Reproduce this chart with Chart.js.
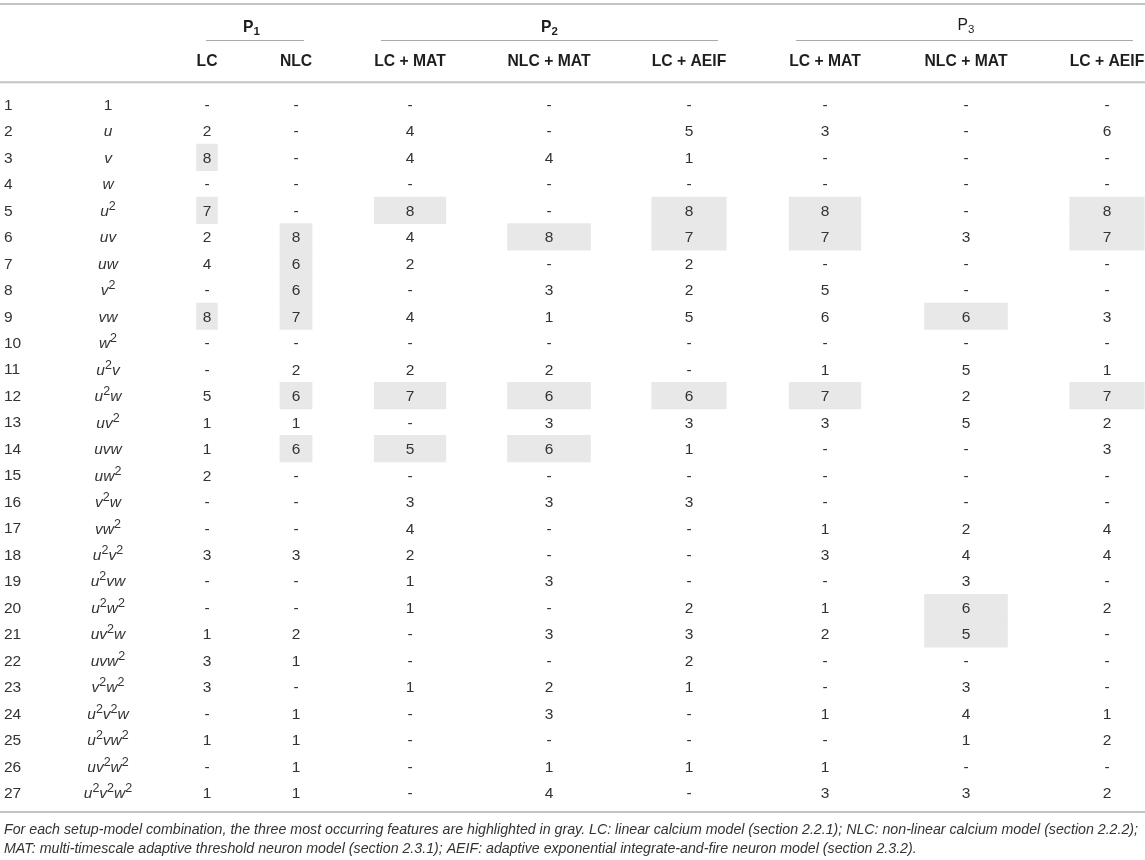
<!DOCTYPE html>
<html>
<head>
<meta charset="utf-8">
<title>Most occurring features per setup-model combination</title>
<script src="https://cdn.jsdelivr.net/npm/chart.js@4.4.1/dist/chart.umd.min.js"></script>
<style>
  html, body { margin: 0; padding: 0; background: #fff; }
  #wrap { width: 1145px; height: 860px; }
</style>
</head>
<body>
<div id="wrap"><canvas id="tableChart" width="1145" height="860"></canvas></div>
<script>
const rowLabels = ["1", "2", "3", "4", "5", "6", "7", "8", "9", "10", "11", "12", "13", "14",
  "15", "16", "17", "18", "19", "20", "21", "22", "23", "24", "25", "26", "27"];

// "^" marks the superscript that follows
const featureLabels = ["1", "u", "v", "w", "u^2", "uv", "uw", "v^2", "vw", "w^2", "u^2v", "u^2w",
  "uv^2", "uvw", "uw^2", "v^2w", "vw^2", "u^2v^2", "u^2vw", "u^2w^2", "uv^2w", "uvw^2", "v^2w^2",
  "u^2v^2w", "u^2vw^2", "uv^2w^2", "u^2v^2w^2"];

const groupNames = ["P", "P", "P"];
const groupSubs = ["1", "2", "3"];
const modelLabels = ["LC", "NLC", "LC + MAT", "NLC + MAT", "LC + AEIF", "LC + MAT", "NLC + MAT", "LC + AEIF"];

// null = "-"
const p1LC     = [null, 2, 8, null, 7, 2, 4, null, 8, null, null, 5, 1, 1, 2, null, null, 3, null, null, 1, 3, 3, null, 1, null, 1];
const p1NLC    = [null, null, null, null, null, 8, 6, 6, 7, null, 2, 6, 1, 6, null, null, null, 3, null, null, 2, 1, null, 1, 1, 1, 1];
const p2LcMat  = [null, 4, 4, null, 8, 4, 2, null, 4, null, 2, 7, null, 5, null, 3, 4, 2, 1, 1, null, null, 1, null, null, null, null];
const p2NlcMat = [null, null, 4, null, null, 8, null, 3, 1, null, 2, 6, 3, 6, null, 3, null, null, 3, null, 3, null, 2, 3, null, 1, 4];
const p2LcAeif = [null, 5, 1, null, 8, 7, 2, 2, 5, null, null, 6, 3, 1, null, 3, null, null, null, 2, 3, 2, 1, null, null, 1, null];
const p3LcMat  = [null, 3, null, null, 8, 7, null, 5, 6, null, 1, 7, 3, null, null, null, 1, 3, null, 1, 2, null, null, 1, null, 1, 3];
const p3NlcMat = [null, null, null, null, null, 3, null, null, 6, null, 5, 2, 5, null, null, null, 2, 4, 3, 6, 5, null, 3, 4, 1, null, 3];
const p3LcAeif = [null, 6, null, null, 8, 7, null, null, 3, null, 1, 7, 2, 3, null, null, 4, 4, null, 2, null, null, null, 1, 2, null, 2];

// rows highlighted in gray (three most occurring features)
const p1LCTop     = [3, 5, 9];
const p1NLCTop    = [6, 7, 8, 9, 12, 14];
const p2LcMatTop  = [5, 12, 14];
const p2NlcMatTop = [6, 12, 14];
const p2LcAeifTop = [5, 6, 12];
const p3LcMatTop  = [5, 6, 12];
const p3NlcMatTop = [9, 20, 21];
const p3LcAeifTop = [5, 6, 12];

const captionLines = [
  "For each setup-model combination, the three most occurring features are highlighted in gray. LC: linear calcium model (section 2.2.1); NLC: non-linear calcium model (section 2.2.2);",
  "MAT: multi-timescale adaptive threshold neuron model (section 2.3.1); AEIF: adaptive exponential integrate-and-fire neuron model (section 2.3.2)."
];

// ---- layout ----
const FONT = "'Liberation Sans', Arial, Helvetica, sans-serif";
const TEXT = "#333";
const HEAD = "#1e1e1e";
const featureX = 108;
const modelX = [207, 296, 410, 549, 689, 825, 966, 1107];
const groupCols = [[0, 1], [2, 4], [5, 7]];
const groupRuleX = [[206, 304], [381, 718], [796, 1133]];
const groupBold = [true, true, false];
const groupBaseline = [31.5, 31.5, 29.5];
const captionLeft = 4;
const captionRight = 1138;

const series = [p1LC, p1NLC, p2LcMat, p2NlcMat, p2LcAeif, p3LcMat, p3NlcMat, p3LcAeif];
const tops = [p1LCTop, p1NLCTop, p2LcMatTop, p2NlcMatTop, p2LcAeifTop, p3LcMatTop, p3NlcMatTop, p3LcAeifTop];

// gray boxes are as wide as the column header text
const measureCtx = document.createElement("canvas").getContext("2d");
measureCtx.font = `bold 15.7px ${FONT}`;
const headWidth = modelLabels.map(l => measureCtx.measureText(l).width);

const highlightData = [];
tops.forEach((rows, c) => {
  rows.forEach(r => {
    highlightData.push({ y: rowLabels[r - 1], x: [modelX[c] - headWidth[c] / 2, modelX[c] + headWidth[c] / 2] });
  });
});

const cellSets = series.map((vals, c) => ({
  type: "scatter",
  label: modelLabels[c],
  data: vals.map((v, r) => ({ x: modelX[c], y: rowLabels[r], v: v })),
  pointRadius: 0,
  pointHoverRadius: 0
}));

function rule(ctx, x0, x1, y, w, color) {
  ctx.fillStyle = color;
  ctx.fillRect(x0, y - w / 2, x1 - x0, w);
}

function drawFeature(ctx, label, cx, baseline) {
  const parts = [];
  for (let i = 0; i < label.length; i++) {
    if (label[i] === "^") {
      parts.push({ t: label[i + 1], sup: true });
      i++;
    } else {
      parts.push({ t: label[i], sup: false });
    }
  }
  const fontOf = p => p.sup ? `12.5px ${FONT}` : (/[a-z]/.test(p.t) ? `italic 15.5px ${FONT}` : `15.5px ${FONT}`);
  let total = 0;
  parts.forEach(p => { ctx.font = fontOf(p); p.w = ctx.measureText(p.t).width; total += p.w; });
  let x = cx - total / 2;
  ctx.textAlign = "left";
  parts.forEach(p => {
    ctx.font = fontOf(p);
    ctx.fillText(p.t, x, p.sup ? baseline - 6 : baseline);
    x += p.w;
  });
}

// justified line: extra room goes into the word gaps
function drawJustified(ctx, text, x0, x1, y) {
  const words = text.split(" ");
  const widths = words.map(w => ctx.measureText(w).width);
  const used = widths.reduce((a, b) => a + b, 0);
  const gap = Math.max(ctx.measureText(" ").width * 0.8, (x1 - x0 - used) / (words.length - 1));
  let x = x0;
  words.forEach((w, i) => { ctx.fillText(w, x, y); x += widths[i] + gap; });
}

const tablePlugin = {
  id: "tablePlugin",
  afterDraw(chart) {
    const { ctx, chartArea, scales } = chart;
    const xs = scales.x, ys = scales.y;
    ctx.save();
    ctx.textBaseline = "alphabetic";

    // horizontal rules
    rule(ctx, 0, chart.width, 4, 2, "#c4c4c4");
    rule(ctx, 0, chart.width, chartArea.top - 9, 2, "#c4c4c4");
    rule(ctx, 0, chart.width, chartArea.bottom + 6, 2, "#c4c4c4");
    groupRuleX.forEach(([a, b]) => rule(ctx, xs.getPixelForValue(a), xs.getPixelForValue(b), 40.5, 1, "#aaaaaa"));

    // group headers P1 / P2 / P3
    ctx.fillStyle = HEAD;
    groupCols.forEach(([c0, c1], g) => {
      const cx = (xs.getPixelForValue(modelX[c0]) + xs.getPixelForValue(modelX[c1])) / 2;
      const wt = groupBold[g] ? "bold " : "";
      ctx.font = `${wt}15.7px ${FONT}`;
      const w1 = ctx.measureText(groupNames[g]).width;
      ctx.font = `${wt}11.5px ${FONT}`;
      const w2 = ctx.measureText(groupSubs[g]).width;
      const x0 = cx - (w1 + w2) / 2;
      ctx.textAlign = "left";
      ctx.font = `${wt}15.7px ${FONT}`;
      ctx.fillText(groupNames[g], x0, groupBaseline[g]);
      ctx.font = `${wt}11.5px ${FONT}`;
      ctx.fillText(groupSubs[g], x0 + w1, groupBaseline[g] + 3.5);
    });

    // model headers
    ctx.font = `bold 15.7px ${FONT}`;
    ctx.textAlign = "center";
    modelLabels.forEach((l, c) => ctx.fillText(l, xs.getPixelForValue(modelX[c]), 66));

    // feature column
    ctx.fillStyle = TEXT;
    featureLabels.forEach((f, r) => drawFeature(ctx, f, xs.getPixelForValue(featureX), ys.getPixelForValue(r) + 5.5));

    // cell values
    ctx.font = `15.5px ${FONT}`;
    ctx.textAlign = "center";
    chart.data.datasets.forEach((ds, i) => {
      if (ds.type !== "scatter") return;
      chart.getDatasetMeta(i).data.forEach((pt, j) => {
        const v = ds.data[j].v;
        ctx.fillText(v === null ? "-" : String(v), pt.x, pt.y + 5.5);
      });
    });

    // caption (justified paragraph, last line left aligned)
    ctx.font = `italic 14.2px ${FONT}`;
    ctx.textAlign = "left";
    const capY = chartArea.bottom + 27.5;
    drawJustified(ctx, captionLines[0], captionLeft, captionRight, capY);
    ctx.fillText(captionLines[1], captionLeft, capY + 19);

    ctx.restore();
  }
};

new Chart(document.getElementById("tableChart"), {
  type: "bar",
  data: {
    labels: rowLabels,
    datasets: [{
      type: "bar",
      label: "top three",
      data: highlightData,
      backgroundColor: "#e8e8e8",
      borderWidth: 0,
      barPercentage: 1,
      categoryPercentage: 1
    }, ...cellSets]
  },
  options: {
    indexAxis: "y",
    responsive: false,
    animation: false,
    events: [],
    layout: { padding: { top: 91.25, bottom: 54, left: 4, right: 0 } },
    scales: {
      x: { type: "linear", min: 60, max: 1145, display: false },
      y: {
        type: "category",
        offset: true,
        grid: { display: false },
        border: { display: false },
        ticks: {
          crossAlign: "far",
          autoSkip: false,
          padding: 0,
          labelOffset: 1,
          color: TEXT,
          font: { family: FONT, size: 15.5 }
        },
        afterFit(scale) { scale.width = 56; }
      }
    },
    plugins: {
      legend: { display: false },
      tooltip: { enabled: false }
    }
  },
  plugins: [tablePlugin]
});
</script>
</body>
</html>
